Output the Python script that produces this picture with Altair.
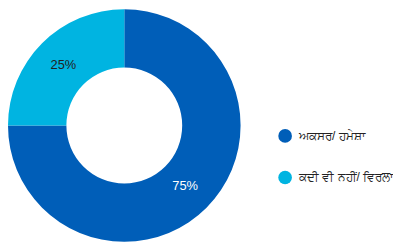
import altair as alt
import pandas as pd

categories = ["ਅਕਸਰ/ ਹਮੇਸ਼ਾ", "ਕਦੀ ਵੀ ਨਹੀਂ/ ਵਿਰਲਾ"]
values = [75, 25]
labels = ["75%", "25%"]
colors = ["#005EB8", "#00B4E1"]
label_colors = ["#ffffff", "#222222"]

df = pd.DataFrame({"cat": categories, "value": values, "label": labels,
                   "order": [0, 1], "lc": label_colors})

cx, cy = 114.5, 117.5

base = alt.Chart(df).encode(
    theta=alt.Theta("value:Q", stack=True),
    order=alt.Order("order:Q"),
)

arcs = base.mark_arc(innerRadius=58.5, outerRadius=117.5).encode(
    x=alt.value(cx), y=alt.value(cy),
    color=alt.Color("cat:N", scale=alt.Scale(domain=categories, range=colors),
                    legend=alt.Legend(title=None, orient="none", legendX=270, legendY=121,
                                      symbolType="circle", symbolSize=190,
                                      labelFontSize=12, labelFont="Liberation Sans",
                                      labelColor="#222222", rowPadding=28,
                                      labelOffset=7, symbolStrokeWidth=0,
                                      labelLimit=200)),
)

text = base.mark_text(radius=87, fontSize=13, font="Liberation Sans").encode(
    x=alt.value(cx), y=alt.value(cy),
    text="label:N",
    color=alt.Color("lc:N", scale=None),
)

chart = alt.layer(arcs, text).properties(
    width=385, height=230, padding=0
).configure_view(stroke=None)

chart.save("out.html", embed_options={"renderer": "svg", "actions": False})
